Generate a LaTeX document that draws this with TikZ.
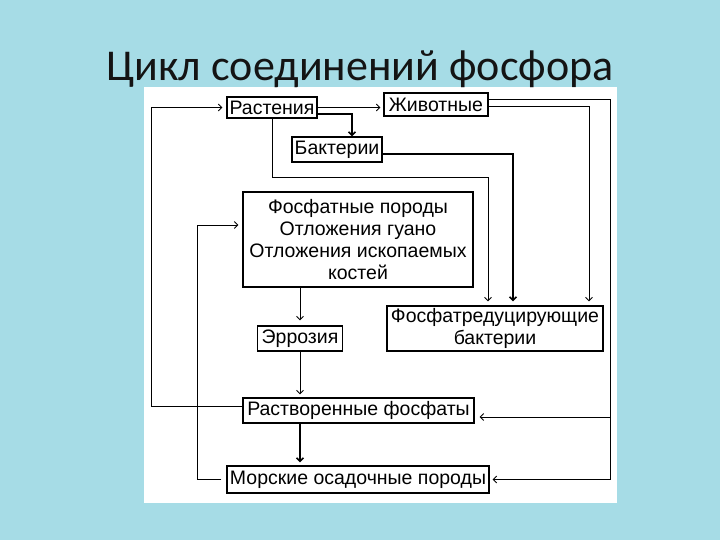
\documentclass[tikz,border=0pt]{standalone}
\usepackage{fontspec}
\setmainfont{Liberation Sans}
\newfontfamily\titlefont{Carlito}
\usetikzlibrary{arrows.meta}

\definecolor{sea}{RGB}{166,220,230}
\definecolor{ink}{RGB}{20,20,20}

\tikzset{
    box/.style={draw, line width=1.1pt, inner sep=0pt, align=center,
        font=\fontsize{19.5}{22}\selectfont},
    link/.style={line width=0.9pt, -{Straight Barb[length=3.5pt,width=7pt]}},
    heavy/.style={link, line width=1.6pt}
}

\begin{document}
\begin{tikzpicture}[x=1pt,y=-1pt]
        \fill[sea] (0,0) rectangle (720,540);
        \useasboundingbox (0,0) rectangle (720,540);
        \fill[white] (144,87) rectangle (617,503);

        \node[ink, font=\titlefont\fontsize{44}{50}\selectfont, anchor=base] (title) at (360,81) {Цикл соединений фосфора};

        % Boxes
        \node[box, minimum width=90pt, minimum height=21pt] (rast) at (272,107.5) {Растения};
        \node[box, minimum width=104pt, minimum height=23pt] (zhiv) at (436,104.5) {Животные};
        \node[box, minimum width=90pt, minimum height=25pt] (bakt) at (337,149.5) {Бактерии};
        \node[box, minimum width=230pt, minimum height=95pt] (fosf) at (358,239.5) {Фосфатные породы\\Отложения гуано\\Отложения ископаемых\\костей};
        \node[box, minimum width=85pt, minimum height=25pt] (erroz) at (300,338.5) {Эррозия};
        \node[box, minimum width=216pt, minimum height=45pt] (fred) at (495,328.5) {Фосфатредуцирующие\\бактерии};
        \node[box, minimum width=231pt, minimum height=25pt] (rastv) at (358.5,410.5) {Растворенные фосфаты};
        \node[box, minimum width=262pt, minimum height=27pt] (morsk) at (358,479.5) {Морские осадочные породы};

        % Links from plants and animals
        \draw[link, shorten >=3pt] (rast.east) -- (rast.east -| zhiv.west);
        \draw[heavy] ([yshift=-6.5pt]rast.east) -| ([xshift=15pt]bakt.north);
        \draw[link, shorten >=4pt] (rast.south) -- ++(0,59) -| ([xshift=-7pt]fred.north);
        \draw[heavy, shorten >=4pt] ([yshift=-4.5pt]bakt.east) -| ([xshift=18pt]fred.north);
        \draw[link, shorten >=4pt] ([yshift=-1.5pt]zhiv.east) -| ([xshift=94pt]fred.north);

        % Outer right line
        \coordinate (edge) at (610,417);
        \draw[link, shorten >=3pt] ([yshift=5.5pt]zhiv.east) -| (edge |- morsk.east) -- (morsk.east);
        \draw[link, shorten >=5pt] (edge) -- ([yshift=-6.5pt]rastv.east);

        % Down the middle
        \draw[link, shorten >=5pt] (erroz.north |- fosf.south) -- (erroz.north);
        \draw[link, shorten >=3pt] (erroz.south) -- (erroz.south |- rastv.north);
        \draw[heavy, shorten >=3pt] (erroz.south |- rastv.south) -- (erroz.south |- morsk.north);

        % Back loops on the left
        \draw[link, shorten >=4pt] ([yshift=4.5pt]rastv.west) -- ++(-91,0) |- (rast.west);
        \draw[link, shorten <=5pt, shorten >=4pt] (morsk.west) -- ++(-29,0) |- ([yshift=14.5pt]fosf.west);

    \end{tikzpicture}
\end{document}
